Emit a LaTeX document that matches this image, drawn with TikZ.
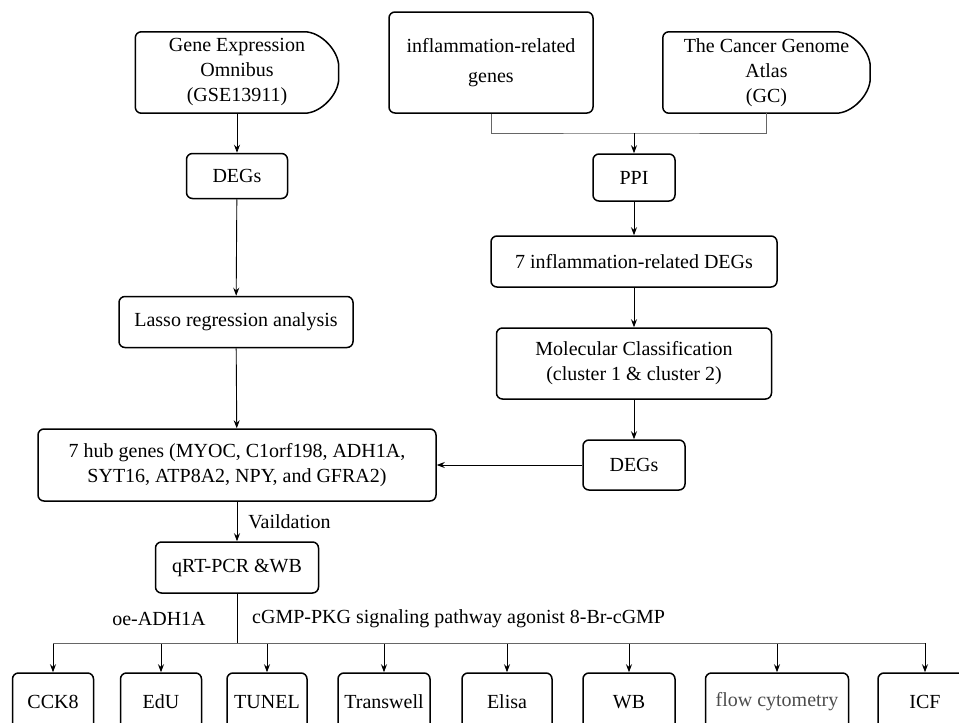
\documentclass[tikz,border=0pt]{standalone}
\usepackage{fontspec}
\setmainfont{Liberation Serif}
\usetikzlibrary{arrows.meta,positioning}

\begin{document}
\begin{tikzpicture}[
           x = 1pt, y = -1pt,
           > = {Stealth[length=8pt,width=6pt]},
        font = \fontsize{20}{25}\selectfont,
  box/.style = {draw, line width=1.5pt, rounded corners=6pt,
                align=center, inner sep=0pt},% rounded process boxes
   db/.style = {draw=none, align=center, inner sep=0pt},% data sources, outline drawn below
 leaf/.style = {box, minimum height=58pt},% boxes of the last row
  arr/.style = {->, line width=0.9pt},% arrows
  bus/.style = {draw=black!60, line width=0.9pt},% gray joining lines
]
\useasboundingbox (0,0) rectangle (959,723);
% left column
\node[db, minimum width=203pt, minimum height=81pt] (geo) at (237,72.5)
      {Gene Expression\\Omnibus\\(GSE13911)};
\node[box, minimum width=101pt, minimum height=45pt] (degsL) at (237,176) {DEGs};
\node[box, minimum width=234pt, minimum height=51pt] (lasso) at (236,322) {Lasso regression analysis};
\node[box, minimum width=398pt, minimum height=72pt] (hub) at (237,465)
      {7 hub genes (MYOC, C1orf198, ADH1A,\\SYT16, ATP8A2, NPY, and GFRA2)};
\node[box, minimum width=163pt, minimum height=51pt] (qrt) at (237,567.5) {qRT-PCR \&WB};
% right column
\node[box, minimum width=204pt, minimum height=101pt] (inflam) at (491,62.5)
      {inflammation-related\\[5pt]genes};
\node[db, minimum width=207pt, minimum height=81pt] (tcga) at (766.5,72.5)
      {The Cancer Genome\\Atlas\\(GC)};
\node[box, minimum width=82pt, minimum height=47pt] (ppi) at (634,177.5) {PPI};
\node[box, minimum width=286pt, minimum height=51pt] (inf7) at (634,261.5) {7 inflammation-related DEGs};
\node[box, minimum width=275pt, minimum height=71pt] (mol) at (634,363.5)
      {Molecular Classification\\(cluster 1 \& cluster 2)};
\node[box, minimum width=102pt, minimum height=50pt] (degsR) at (634,465) {DEGs};
% outlines of the two data sources
\foreach \n in {geo,tcga}
\draw[line width=1.5pt, rounded corners=6pt]
  ([xshift=-40pt]\n.north east) .. controls +(22,0) and +(0,-22) .. (\n.east)
  .. controls +(0,22) and +(22,0) .. ([xshift=-40pt]\n.south east)
  -- (\n.south west) -- (\n.north west) -- cycle;
% connections
\coordinate (jn) at (634,133);
\draw[bus] (inflam.south) |- (jn) -| (tcga.south);
\draw[arr] (jn) -- (ppi);
\draw[arr] (ppi) -- (inf7);
\draw[arr] (inf7) -- (mol);
\draw[arr] (mol) -- (degsR);
\draw[arr] (degsR) -- (hub);
\draw[arr] (geo) -- (degsL);
\draw[arr] (degsL) -- (lasso);
\draw[arr] (lasso) -- (hub);
\draw[arr] (hub) -- node[right, inner sep=0pt, xshift=11pt] (val) {Vaildation} (qrt);
% last row
\coordinate (split) at (237,643);
\draw[line width=0.9pt] (qrt) -- (split);
\node (oe) at (159,619) {oe-ADH1A};
\node[right, inner sep=0pt] (cgmp) at (252,619) {cGMP-PKG signaling pathway agonist 8-Br-cGMP};
\foreach \cx/\w/\t/\c [count=\i] in {53/81/CCK8/black, 161/81/EdU/black, 267/80/TUNEL/black,
    384/92/Transwell/black, 507/90/Elisa/black, 629/92/WB/black,
    777/143/flow cytometry/black!70, 925/94/ICF/black}
{
\node[leaf, minimum width=\w pt, text=\c] (t\i) at (\cx,702) {\t};
\draw[arr] (t\i.north |- split) -- (t\i);
}
\draw[bus] (t1.north |- split) -- (t8.north |- split);
\end{tikzpicture}
\end{document}
